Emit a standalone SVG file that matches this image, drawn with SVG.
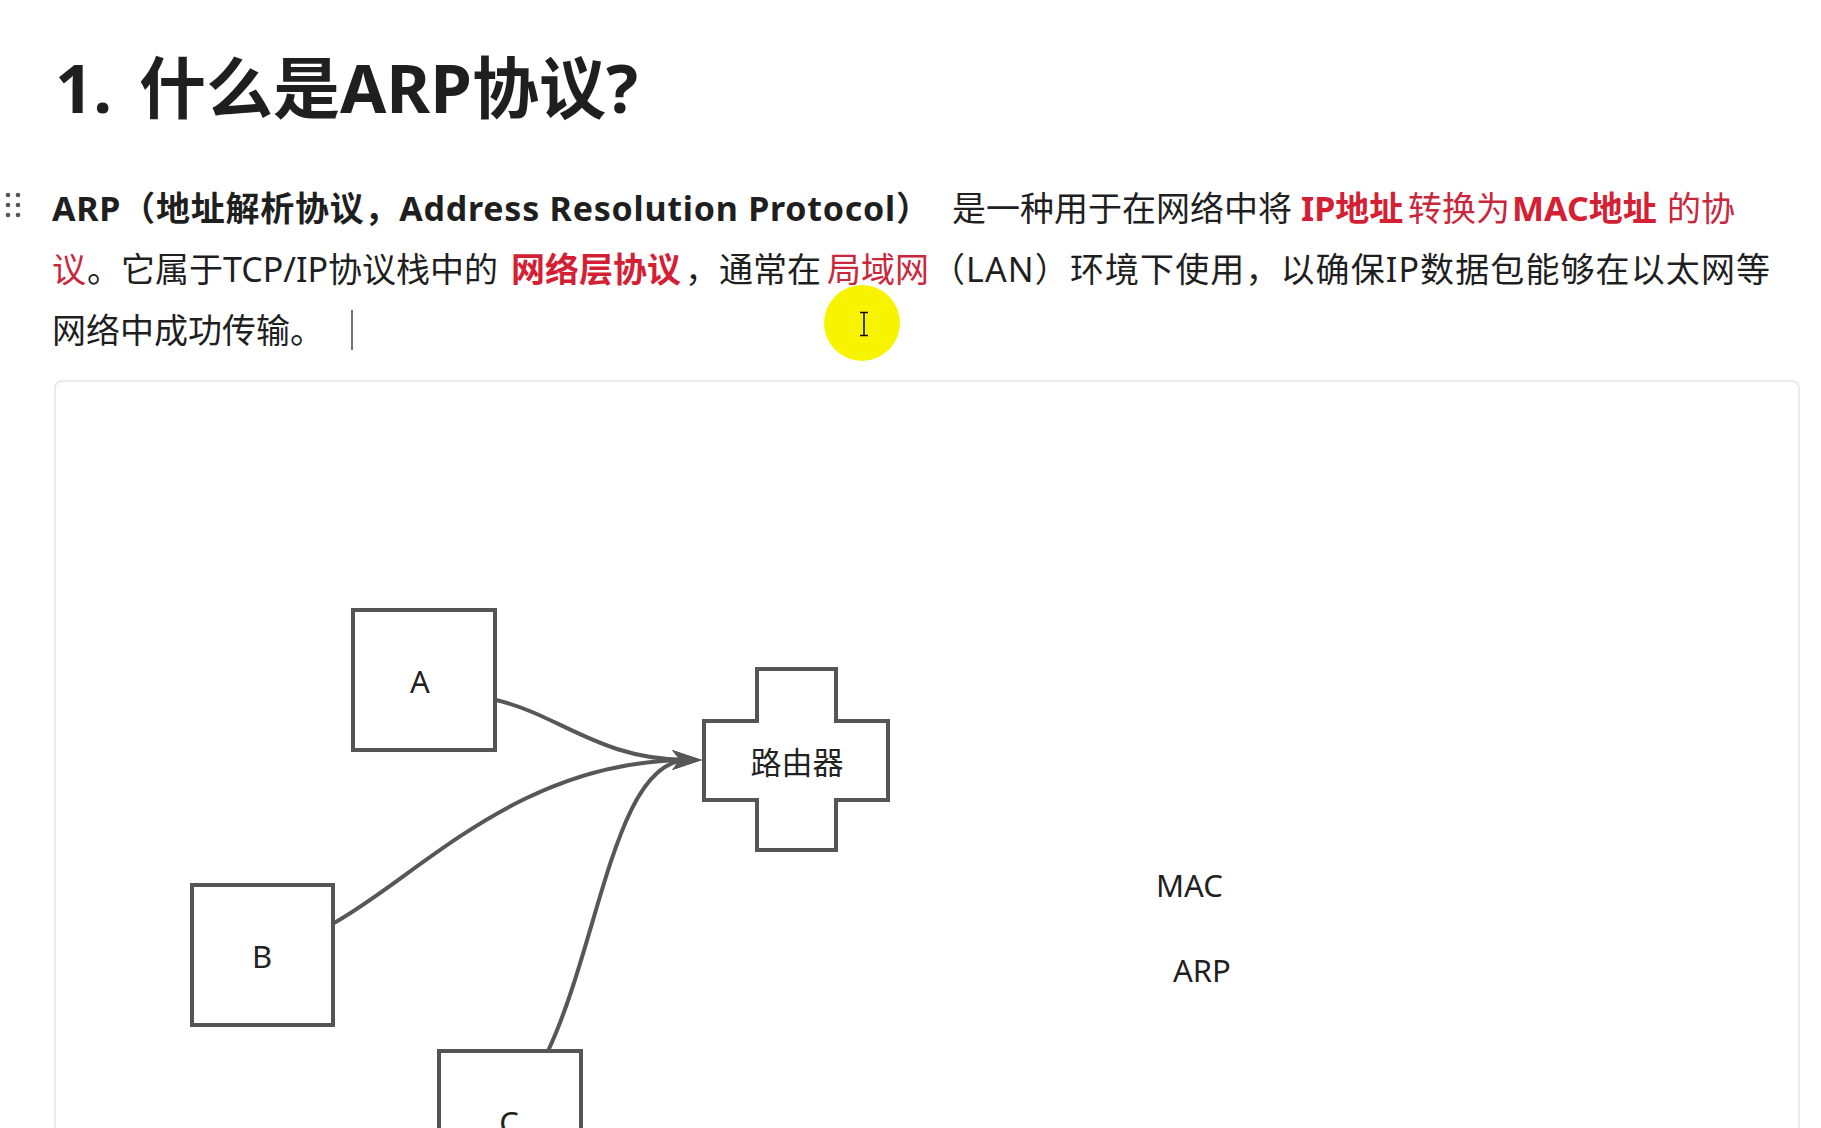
<svg xmlns="http://www.w3.org/2000/svg" width="1821" height="1128" viewBox="0 0 1821 1128">
  <style>
    .t { font-family: "Noto Sans", "Noto Sans CJK SC", sans-serif; fill: #1f1f1f; }
    .title { font-size: 67px; font-weight: bold; }
    .p { font-size: 34px; }
    .b { font-weight: bold; }
    .r { fill: #c9283c; }
    .rb { fill: #d41f35; font-weight: bold; }
    .node { fill: #ffffff; stroke: #555555; stroke-width: 4; }
    .lbl { font-family: "Noto Sans", "Noto Sans CJK SC", sans-serif; font-size: 31px; fill: #222222; text-anchor: middle; dominant-baseline: central; }
    .edge { fill: none; stroke: #575757; stroke-width: 4; }
    .dot { fill: #555555; }
  </style>
  <defs>
    <marker id="arrow" markerUnits="userSpaceOnUse" markerWidth="32" markerHeight="22" refX="16" refY="10" orient="auto" viewBox="0 0 32 22">
      <path d="M0,0 L30,10 L0,20 L8,10 Z" fill="#575757"/>
    </marker>
  </defs>
  <rect width="1821" height="1128" fill="#ffffff"/>

  <!-- Title -->
  <text class="t title" y="113"><tspan x="55">1.</tspan><tspan x="139">什么是ARP协议?</tspan></text>

  <!-- drag handle -->
  <g id="handle">
    <circle class="dot" cx="8" cy="195" r="2.3"/>
    <circle class="dot" cx="18" cy="195" r="2.3"/>
    <circle class="dot" cx="8" cy="205" r="2.3"/>
    <circle class="dot" cx="18" cy="205" r="2.3"/>
    <circle class="dot" cx="8" cy="215" r="2.3"/>
    <circle class="dot" cx="18" cy="215" r="2.3"/>
  </g>

  <!-- Paragraph -->
  <text class="t p b" x="52" y="221" textLength="878" lengthAdjust="spacing">ARP（地址解析协议，Address Resolution Protocol）</text>
  <text class="t p" y="221"><tspan x="952">是一种用于在网络中将</tspan><tspan x="1301" class="rb">IP地址</tspan><tspan x="1408" class="r">转换为</tspan><tspan x="1512" class="rb">MAC地址</tspan><tspan x="1667" class="r">的协</tspan></text>
  <text class="t p" y="282"><tspan x="52" class="r">议</tspan><tspan x="87">。它属于TCP/IP协议栈中的</tspan><tspan x="511" class="rb">网络层协议</tspan><tspan x="685">，通常在</tspan><tspan x="827" class="r">局域网</tspan></text>
  <text class="t p" x="931" y="282" textLength="839" lengthAdjust="spacing">（LAN）环境下使用，以确保IP数据包能够在以太网等</text>
  <text class="t p" y="343"><tspan x="52">网络中成功传输。</tspan></text>
  <line x1="352" y1="310" x2="352" y2="350" stroke="#444444" stroke-width="1.5"/>

  <!-- Canvas card -->
  <rect x="55" y="381" width="1744" height="820" rx="7" fill="#ffffff" stroke="#e4e4e4" stroke-width="1.5"/>

  <!-- connectors -->
  <g id="edges">
    <path class="edge" d="M 496 700 C 560 715, 600 760, 688 760" marker-end="url(#arrow)"/>
    <path class="edge" d="M 334 923 C 420 875, 520 760, 688 760" marker-end="url(#arrow)"/>
    <path class="edge" d="M 548 1051 C 600 940, 615 760, 688 760" marker-end="url(#arrow)"/>
  </g>

  <!-- nodes -->
  <g id="node-A">
    <rect class="node" x="353" y="610" width="142" height="140"/>
    <text class="lbl" x="420" y="681">A</text>
  </g>
  <g id="node-B">
    <rect class="node" x="192" y="885" width="141" height="140"/>
    <text class="lbl" x="262" y="956">B</text>
  </g>
  <g id="node-C">
    <rect class="node" x="439" y="1051" width="142" height="140"/>
    <text class="lbl" x="509" y="1122">C</text>
  </g>
  <g id="node-router">
    <path class="node" d="M 757 669 H 836 V 721 H 888 V 800 H 836 V 850 H 757 V 800 H 704 V 721 H 757 Z"/>
    <text class="lbl" x="797" y="762">路由器</text>
  </g>

  <text class="t" x="1156" y="897" font-size="31" fill="#222222">MAC</text>
  <text class="t" x="1173" y="982" font-size="31" fill="#222222">ARP</text>

  <!-- mouse highlight -->
  <g id="pointer">
    <circle cx="862" cy="323" r="38" fill="#f8f400"/>
    <path d="M 864 313 V 335 M 860 312.5 H 868 M 860 335.5 H 868" stroke="#111111" stroke-width="1.6" fill="none"/>
  </g>
</svg>
